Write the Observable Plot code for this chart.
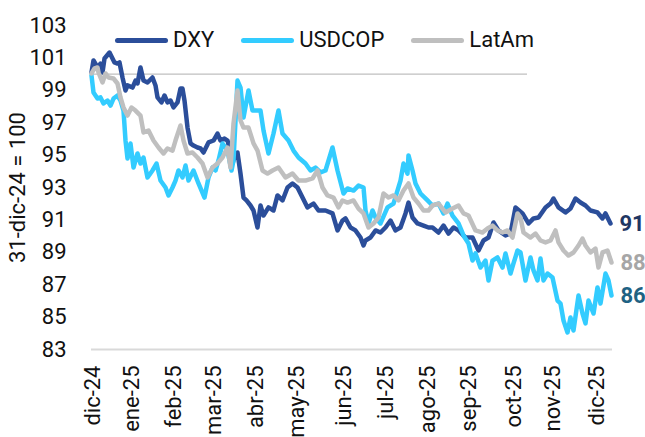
<!DOCTYPE html>
<html>
<head>
<meta charset="utf-8">
<script src="https://cdn.jsdelivr.net/npm/d3@7"></script>
<script src="https://cdn.jsdelivr.net/npm/@observablehq/plot@0.6"></script>
<style>
  body { margin: 0; background: #fff; }
  #wrap { position: relative; width: 645px; height: 437px; font-family: Roboto, sans-serif; }
  #legend { position: absolute; left: 115px; top: 28px; display: flex; align-items: center; font-size: 22px; color: #111; line-height: 24px; }
  .sw { display: inline-block; width: 53px; height: 5px; border-radius: 3px; margin-right: 5px; }
  .it { display: flex; align-items: center; margin-right: 27px; }
</style>
</head>
<body>
<div id="wrap"><div id="legend"></div></div>
<script>
const seriesNames = ["DXY", "USDCOP", "LatAm"];
const seriesColors = ["#2B4E9A", "#33CCFF", "#BFBFBF"];
const labelColors = ["#1F3763", "#1F6283", "#A6A6A6"];

const monthLabels = ["dic-24","ene-25","feb-25","mar-25","abr-25","may-25","jun-25","jul-25","ago-25","sep-25","oct-25","nov-25","dic-25"];
const monthPos = [0.6, 20, 41, 61, 82, 102.5, 126, 147, 168, 188.5, 211, 230.5, 252.5];
const yTicks = [83, 85, 87, 89, 91, 93, 95, 97, 99, 101, 103];
const refValue = 100;
const refEnd = 218;
const yTitle = "31-dic-24 = 100";

// [trading-day index, index value]
const dxy = [[0,100.10],[1,100.84],[3,100.41],[4.5,100.65],[5.5,100.10],[6.5,100.96],[9,101.33],[10.5,100.96],[11.5,100.72],[13,100.65],[14,100.72],[15.5,99.79],[17,98.99],[18,99.30],[20.5,99.17],[22,99.60],[23,99.42],[24.5,100.41],[26,99.60],[28,99.48],[30.5,99.79],[32,99.30],[33,98.56],[35,98.25],[36.5,98.68],[38,98.25],[39.5,98.37],[41,97.94],[43,98.25],[44.5,99.11],[45.5,99.11],[46.5,98.37],[48,96.70],[49.5,95.72],[51,95.59],[53,95.47],[54.5,95.41],[56,95.16],[58.5,95.78],[61,95.90],[63,96.33],[64.5,95.90],[66.5,96.02],[68,95.90],[69,95.41],[70.5,94.48],[72,95.10],[73,95.16],[74.5,93.86],[76,92.38],[77.5,92.20],[79.5,91.89],[81,91.58],[83,90.53],[84.5,91.89],[86,91.27],[88.5,91.77],[91,91.58],[93,92.51],[95.5,92.20],[98,93.00],[100.5,93.25],[103,93.00],[105.5,92.38],[108,91.77],[111,92.01],[113.5,91.58],[117,91.58],[120.5,91.40],[123,90.35],[125.5,90.96],[127,91.09],[129.5,90.53],[132,90.35],[134.5,89.91],[136,89.42],[137,89.73],[139.5,89.91],[142,90.35],[144.5,90.22],[147,90.53],[149.5,90.96],[152,90.35],[154.5,90.53],[157,91.40],[158.5,92.07],[160.5,91.15],[163,90.78],[166,90.65],[168.5,90.53],[170.5,90.53],[173.5,90.22],[176,90.65],[178.5,90.16],[181,90.53],[183.5,90.35],[187,89.91],[190.5,89.91],[193.5,89.11],[196,89.73],[198.5,89.91],[201,90.84],[203.5,90.35],[207,90.04],[209.5,90.16],[212,91.77],[215.5,91.40],[218.5,90.78],[221,91.09],[223.5,91.15],[227,91.77],[229.5,92.01],[231,92.32],[233.5,91.77],[237,91.46],[239.5,91.70],[242,92.32],[244.5,92.07],[247,91.89],[249.5,91.58],[253,91.46],[255.5,91.09],[257,91.40],[259.5,90.78]];

const usdcop = [[0,99.91],[1,98.86],[3,98.49],[4.5,98.56],[6,98.19],[8,98.37],[9.5,98.06],[11,98.49],[13,98.68],[14.5,98.37],[16,97.75],[17,95.90],[18,94.79],[19.5,95.72],[21,94.23],[23,95.10],[24.5,94.48],[26,94.85],[28,93.62],[30.5,94.05],[32.5,94.48],[34.5,93.43],[37,93.00],[38.5,92.51],[40.5,93.00],[42,93.43],[43.5,94.05],[45.5,93.62],[47,94.36],[48.5,93.43],[51,94.05],[53.5,93.25],[56.5,92.38],[58.5,93.62],[60.5,94.23],[62,94.05],[63.5,94.67],[65.5,95.72],[68,95.28],[70,94.05],[71,94.67],[73,99.60],[74.5,99.17],[76,97.32],[78.5,98.99],[80.5,97.75],[83,97.75],[84.5,97.75],[86,96.52],[88.5,95.10],[91,96.33],[93.5,97.75],[95.5,96.33],[98.5,95.90],[101,95.28],[103.5,94.85],[107,94.48],[109.5,94.05],[112,94.23],[114.5,93.93],[117,94.05],[120.5,95.47],[123,94.05],[126,92.63],[128,92.94],[131,92.81],[133.5,93.12],[136,93.00],[137,91.58],[138.5,90.78],[140.5,91.58],[142,91.15],[144.5,90.78],[148,91.77],[151,92.01],[154.5,93.43],[156,94.48],[158,93.86],[158.5,94.98],[160.5,94.05],[162,93.25],[164.5,92.63],[168,92.20],[170.5,91.89],[173.5,92.01],[176,91.40],[178,92.01],[180.5,91.27],[183.5,90.78],[186,90.04],[188.5,89.54],[190.5,88.49],[192,88.93],[194.5,88.06],[197,88.49],[198.5,87.26],[200.5,88.49],[203,88.68],[205.5,88.06],[207,88.93],[209.5,87.69],[211,88.31],[213,89.11],[214.5,88.99],[217,87.26],[219.5,88.68],[221,87.88],[223,87.26],[224.5,88.62],[226,87.26],[228,87.69],[230.5,87.44],[233,86.02],[234.5,85.84],[236,84.79],[238,84.05],[239.5,84.98],[241,84.17],[243.5,86.33],[245.5,85.22],[247,84.61],[248.5,86.02],[251,85.22],[253,86.83],[254.5,85.84],[257,87.69],[258.5,87.26],[260,86.33]];

const latam = [[0,100.04],[1.5,100.35],[3,100.41],[3.5,100.10],[5.5,99.48],[7,100.04],[8.5,99.79],[11,99.73],[13,99.42],[14.5,98.56],[16,97.94],[18,97.44],[20,97.94],[22,97.75],[24.5,97.44],[26,96.40],[28.5,96.52],[31,95.90],[33.5,95.47],[36,95.10],[38,95.41],[40.5,95.28],[42,95.90],[44.5,96.83],[46,95.90],[48,95.10],[50.5,95.16],[53,94.85],[55.5,94.48],[58,93.62],[60.5,94.23],[63,94.48],[65.5,94.85],[68,95.47],[69.5,94.23],[71,96.95],[73,98.99],[74.5,97.14],[76,96.70],[78.5,96.70],[81,95.72],[83,95.28],[85.5,94.05],[88,93.86],[90.5,94.05],[93.5,94.23],[97,93.62],[100.5,93.86],[103.5,93.43],[107,93.43],[110.5,93.56],[113,94.05],[115.5,93.00],[118,92.51],[121,92.38],[123.5,91.77],[125.5,92.20],[128,92.07],[131,92.20],[133.5,91.70],[136,91.40],[138.5,90.53],[141,90.78],[143.5,91.15],[146,92.63],[148.5,92.38],[151,92.51],[153.5,92.20],[156,92.81],[158.5,93.25],[161,92.38],[163.5,92.01],[166,91.58],[168.5,91.58],[170.5,91.89],[173.5,92.01],[177,91.46],[180.5,91.70],[183.5,91.89],[186,91.40],[188.5,91.27],[192,90.35],[195.5,90.22],[198,90.47],[200.5,90.65],[203,90.35],[205.5,90.22],[208,90.35],[210.5,89.91],[213,91.40],[214.5,91.15],[216,90.22],[219.5,89.91],[222,90.16],[224.5,89.73],[227,89.61],[229.5,89.73],[232,90.35],[233.5,89.61],[236,89.11],[238.5,88.80],[241,88.99],[243.5,89.42],[245.5,89.85],[247,89.42],[249.5,88.99],[252,89.23],[253.5,88.06],[255.5,88.99],[258,89.11],[260,88.37]];

const allSeries = [dxy, usdcop, latam];
const endPoints = allSeries.map((s, i) => ({d: s[s.length - 1][0], v: s[s.length - 1][1], i}));

const lineMarks = allSeries.map((s, i) => Plot.line(s, {
  x: p => p[0], y: p => p[1], stroke: seriesColors[i], strokeWidth: 4.5,
  strokeLinejoin: "round", strokeLinecap: "round"
}));

const chart = Plot.plot({
  width: 645, height: 437,
  marginTop: 25, marginBottom: 88, marginLeft: 91, marginRight: 33,
  style: {fontFamily: "Roboto, sans-serif", fontSize: "22px", color: "#111", background: "transparent", overflow: "visible"},
  x: {domain: [0, 260.5]},
  y: {domain: [83, 103]},
  marks: [
    Plot.axisX({ticks: monthPos, tickFormat: d => monthLabels[monthPos.indexOf(d)], tickRotate: -90, tickSize: 0, tickPadding: 16, label: null, fontSize: 22}),
    Plot.axisY({ticks: yTicks, tickFormat: d => String(d), tickSize: 0, tickPadding: 25, label: null, fontSize: 22}),
    Plot.ruleY([83], {stroke: "#d9d9d9", strokeWidth: 2}),
    Plot.ruleY([refValue], {x1: 0, x2: refEnd, stroke: "#bfbfbf", strokeWidth: 1.3}),
    ...lineMarks,
    Plot.text(endPoints, {x: "d", y: "v", text: p => String(Math.round(p.v)), dx: 9, textAnchor: "start",
      fill: p => labelColors[p.i], fontWeight: "bold", fontSize: 22}),
    Plot.text([yTitle], {frameAnchor: "left", dx: -74, rotate: -90, textAnchor: "middle", lineAnchor: "middle", fontSize: 22, fill: "#111"})
  ]
});

const wrap = document.getElementById("wrap");
wrap.insertBefore(chart, wrap.firstChild);

const legend = document.getElementById("legend");
seriesNames.forEach((n, i) => {
  const it = document.createElement("div");
  it.className = "it";
  const sw = document.createElement("span");
  sw.className = "sw";
  sw.style.background = seriesColors[i];
  const tx = document.createElement("span");
  tx.textContent = n;
  it.appendChild(sw); it.appendChild(tx);
  legend.appendChild(it);
});
</script>
</body>
</html>
